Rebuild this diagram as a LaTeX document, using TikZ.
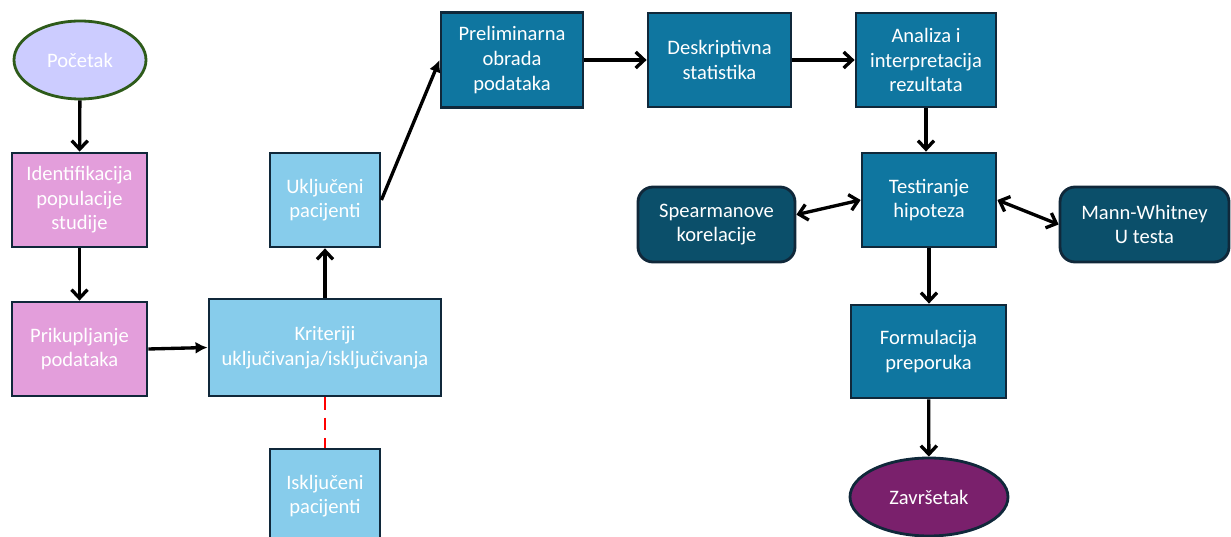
\documentclass[tikz,border=0pt]{standalone}
\usepackage{fontspec}
\setmainfont{Carlito}
\usepackage{tikz}
\usetikzlibrary{shapes.geometric,arrows.meta}

\definecolor{startfill}{HTML}{CCCCFF}
\definecolor{startline}{HTML}{2E5B1A}
\definecolor{pinkfill}{HTML}{E39EDB}
\definecolor{lightblue}{HTML}{87CCEB}
\definecolor{tealfill}{HTML}{0F76A0}
\definecolor{darkteal}{HTML}{0B4F6A}
\definecolor{endfill}{HTML}{7A206C}
\definecolor{boxline}{HTML}{10283A}

\begin{document}
\begin{tikzpicture}[
        font=\fontsize{11.7}{14}\selectfont,
        >={Straight Barb[length=1.7mm,width=3.2mm]},
        box/.style={draw=boxline,line width=1.6pt,text=white,align=center,inner sep=0pt},
        arr/.style={line width=1.9pt,->}
    ]
            \useasboundingbox (0,0) rectangle (24.62,10.74);

            % lijevi stupac
            \node[box,ellipse,fill=startfill,draw=startline,minimum width=2.64cm,minimum height=1.56cm] (start) at (1.6,9.54) {Početak};
            \node[box,fill=pinkfill,minimum width=2.7cm,minimum height=1.88cm] (ident) at (1.59,6.74) {Identifikacija\\populacije\\studije};
            \node[box,fill=pinkfill,minimum width=2.7cm,minimum height=1.88cm] (prik) at (1.59,3.76) {Prikupljanje\\podataka};

            % kriteriji
            \node[box,fill=lightblue,minimum width=4.64cm,minimum height=1.94cm] (krit) at (6.5,3.79) {Kriteriji\\uključivanja/isključivanja};
            \node[box,fill=lightblue,minimum width=2.2cm,minimum height=1.88cm] (ukl) at (6.5,6.74) {Uključeni\\pacijenti};
            \node[box,fill=lightblue,minimum width=2.2cm,minimum height=1.88cm] (iskl) at (6.5,0.82) {Isključeni\\pacijenti};

            % analiza
            \node[box,fill=tealfill,minimum width=2.84cm,minimum height=1.9cm] (prelim) at (10.24,9.54) {Preliminarna\\obrada\\podataka};
            \node[box,fill=tealfill,minimum width=2.86cm,minimum height=1.88cm] (desk) at (14.39,9.54) {Deskriptivna\\statistika};
            \node[box,fill=tealfill,minimum width=2.8cm,minimum height=1.88cm] (anal) at (18.52,9.54) {Analiza i\\interpretacija\\rezultata};
            \node[box,fill=tealfill,minimum width=2.68cm,minimum height=1.88cm] (test) at (18.58,6.74) {Testiranje\\hipoteza};
            \node[box,fill=darkteal,rounded corners=0.3cm,minimum width=3.14cm,minimum height=1.5cm] (spear) at (14.33,6.25) {Spearmanove\\korelacije};
            \node[box,fill=darkteal,rounded corners=0.3cm,minimum width=3.38cm,minimum height=1.5cm] (mann) at (22.89,6.25) {Mann-Whitney\\U testa};
            \node[box,fill=tealfill,minimum width=3.1cm,minimum height=1.86cm] (form) at (18.57,3.71) {Formulacija\\preporuka};
            \node[box,ellipse,fill=endfill,minimum width=3.16cm,minimum height=1.56cm] (end) at (18.58,0.8) {Završetak};

            % veze
            \draw [arr] (start) -- (ident);
            \draw [arr] (ident) -- (prik);
            \draw [line width=1.9pt,-{Latex[length=2.4mm,width=2.4mm]}] (prik.east) -- (krit.west);
            \draw [arr] (krit) -- (ukl);
            \draw [line width=1.9pt,-{Latex[length=2.4mm,width=2.4mm]}] (ukl.east) -- (prelim.west);
            \draw [arr] (prelim) -- (desk);
            \draw [arr] (desk) -- (anal);
            \draw [arr] (anal.south) -- (anal.south |- test.north);
            \draw [arr,<->] (spear.7) -- (test.west);
            \draw [arr,<->] (test.east) -- (mann.west);
            \draw [arr] (test.south) -- (test.south |- form.north);
            \draw [arr] (form) -- (end);
            \draw [red,line width=1.7pt,dash pattern=on 7pt off 4.5pt] (krit) -- (iskl);
        \end{tikzpicture}
\end{document}
